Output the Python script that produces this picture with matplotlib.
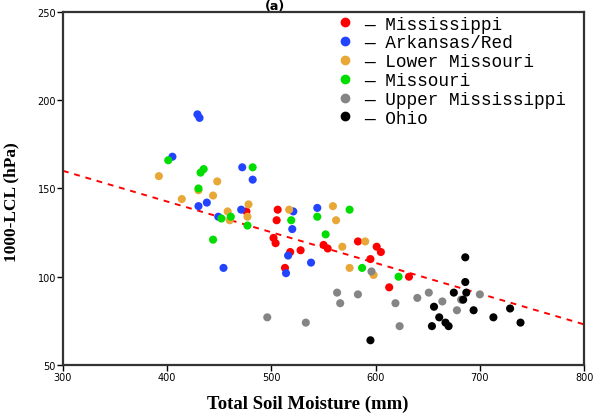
import matplotlib
matplotlib.use("Agg")
from matplotlib import pyplot as plt
from matplotlib.lines import Line2D

# basin scatter data: total soil moisture (mm) vs 1000-LCL (hPa)
miss_x = [506, 505, 502, 504, 513, 518, 528, 550, 554, 583, 601, 605, 595, 632, 613, 476]
miss_y = [138, 132, 122, 119, 105, 114, 115, 118, 116, 120, 117, 114, 110, 100, 94, 137]

ark_x = [429, 431, 405, 472, 482, 430, 438, 449, 471, 454, 521, 544, 520, 516, 538, 514]
ark_y = [192, 190, 168, 162, 155, 140, 142, 134, 138, 105, 137, 139, 127, 112, 108, 102]

lmo_x = [392, 414, 430, 448, 444, 458, 460, 478, 477, 517, 559, 562, 568, 590, 575, 598]
lmo_y = [157, 144, 149, 154, 146, 137, 132, 141, 134, 138, 140, 132, 117, 120, 105, 101]

mo_x = [401, 432, 435, 430, 482, 452, 461, 477, 444, 519, 544, 552, 575, 587, 622]
mo_y = [166, 159, 161, 150, 162, 133, 134, 129, 121, 132, 134, 124, 138, 105, 100]

umiss_x = [496, 563, 583, 566, 533, 619, 623, 596, 640, 651, 664, 678, 682, 700]
umiss_y = [77, 91, 90, 85, 74, 85, 72, 103, 88, 91, 86, 81, 87, 90]

ohio_x = [595, 686, 686, 675, 687, 684, 656, 661, 667, 670, 654, 694, 713, 729, 739]
ohio_y = [64, 111, 97, 91, 91, 87, 83, 77, 74, 72, 72, 81, 77, 82, 74]

# regression line end points
fit_x = [300, 800]
fit_y = [160, 73]

groups = [
    (miss_x, miss_y, '#ff0000', 'Mississippi'),
    (ark_x, ark_y, '#2244ff', 'Arkansas/Red'),
    (lmo_x, lmo_y, '#e8a838', 'Lower Missouri'),
    (mo_x, mo_y, '#00dd00', 'Missouri'),
    (umiss_x, umiss_y, '#858585', 'Upper Mississippi'),
    (ohio_x, ohio_y, '#000000', 'Ohio'),
]

fig = plt.figure(figsize=(5.96, 4.14), dpi=100)
ax = fig.add_axes([0.1057, 0.116, 0.8743, 0.8526])

handles = []
for xs, ys, c, name in groups:
    ax.scatter(xs, ys, s=34, color=c, marker='o', edgecolors='none', zorder=3)
    handles.append(Line2D([], [], linestyle='none', marker='o', markersize=6,
                          color=c, label='\u2014 ' + name))

ax.plot(fit_x, fit_y, color='red', linestyle=(0, (3, 3)), linewidth=1.4, zorder=2)

ax.set_xlim(300, 800)
ax.set_ylim(50, 250)
ax.set_xticks([300, 400, 500, 600, 700, 800])
ax.set_yticks([50, 100, 150, 200, 250])
ax.tick_params(direction='out', length=4, width=1, pad=1, labelsize=7)
for sp in ax.spines.values():
    sp.set_linewidth(1.6)
    sp.set_color('#333333')

ax.set_xlabel('Total Soil Moisture (mm)', fontsize=13.5, fontweight='bold',
              family='Liberation Serif', labelpad=8)
ax.xaxis.set_label_coords(0.47, -0.085)
ax.set_ylabel('1000-LCL (hPa)', fontsize=12.5, fontweight='bold',
              family='Liberation Serif')
ax.yaxis.set_label_coords(-0.083, 0.465)

ax.legend(handles=handles, loc='upper left', bbox_to_anchor=(0.5, 1.025),
          frameon=False, handlelength=1.0, handletextpad=0.6, labelspacing=0.1,
          borderaxespad=0.3, prop={'family': 'Liberation Mono', 'size': 12.8})

fig.text(0.462, 1.0, '(a)', fontsize=9, fontweight='bold', ha='center', va='top')

fig.savefig('out.png', dpi=100)
